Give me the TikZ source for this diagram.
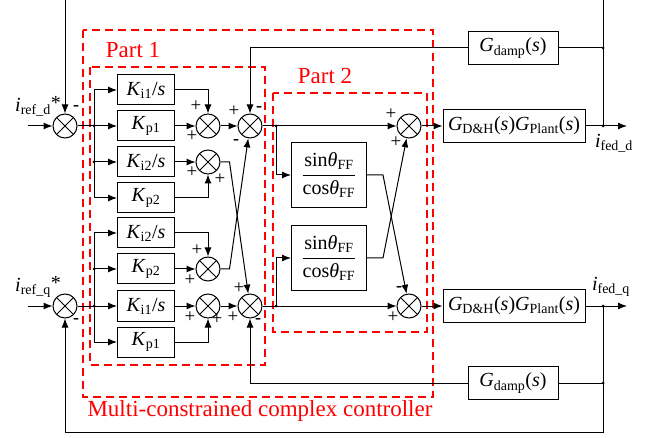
\documentclass[tikz,border=0pt]{standalone}
\usepackage{fontspec}
\usepackage{amsmath}
\setmainfont{Liberation Serif}
\usetikzlibrary{arrows.meta}

\begin{document}
\begin{tikzpicture}[x=1pt, y=-1pt, line width=1pt, >={Latex[length=9pt,width=7pt]},
  block/.style = {draw, minimum width=57pt, minimum height=30pt, inner sep=0pt, font=\rmfamily\fontsize{20}{23}\selectfont},
  sum/.style = {draw, circle, minimum size=24pt, inner sep=0pt,
    path picture={\draw (path picture bounding box.north west) -- (path picture bounding box.south east)
      (path picture bounding box.north east) -- (path picture bounding box.south west);}},
  sign/.style = {inner sep=0pt, font=\rmfamily\fontsize{19}{19}\selectfont},
  minus/.style = {inner sep=0pt, font=\rmfamily\bfseries\fontsize{18}{18}\selectfont},
  dot/.style = {circle, fill, inner sep=0pt, minimum size=3pt},
  part/.style = {draw=red, dash pattern=on 8pt off 5pt, line width=1.2pt},
  partlabel/.style = {text=red, font=\rmfamily\fontsize{23}{26}\selectfont},
  lbl/.style = {inner sep=0pt, font=\rmfamily\fontsize{20}{23}\selectfont}]
  \useasboundingbox (0,0) rectangle (653,438);

  % controller borders
  \draw[part] (83,30) rectangle (433,397);
  \draw[part] (90,67) rectangle (265,365);
  \draw[part] (273,93) rectangle (427,332);
  \node[partlabel] (p1) at (133,50) {Part 1};
  \node[partlabel] (p2) at (325,76) {Part 2};
  \node[partlabel] (mcc) at (260,411) {Multi-constrained complex controller};

  % input junctions
  \node[sum] (sd0) at (65,126) {};
  \node[sum] (sq0) at (65,306) {};
  \node[lbl] (refd) at (38,106) {\textit{i}\textsubscript{ref\_d}\raisebox{2pt}{*}};
  \node[lbl] (refq) at (38,287) {\textit{i}\textsubscript{ref\_q}\raisebox{2pt}{*}};

  % Part 1 blocks
  \node[block] (ki1d) at (146,90) {\textit{K}\textsubscript{i1}/\textit{s}};
  \node[block] (kp1d) at (146,126) {\textit{K}\textsubscript{p1}};
  \node[block] (ki2d) at (146,162) {\textit{K}\textsubscript{i2}/\textit{s}};
  \node[block] (kp2d) at (146,198) {\textit{K}\textsubscript{p2}};
  \node[block] (ki2q) at (146,233) {\textit{K}\textsubscript{i2}/\textit{s}};
  \node[block] (kp2q) at (146,269) {\textit{K}\textsubscript{p2}};
  \node[block] (ki1q) at (146,306) {\textit{K}\textsubscript{i1}/\textit{s}};
  \node[block] (kp1q) at (146,342) {\textit{K}\textsubscript{p1}};

  \node[sum] (sa_d) at (208,126) {};
  \node[sum] (sb_d) at (208,162) {};
  \node[sum] (sc_d) at (250,126) {};
  \node[sum] (sa_q) at (208,269) {};
  \node[sum] (sb_q) at (208,306) {};
  \node[sum] (sc_q) at (250,306) {};

  % Part 2 blocks
  \node[block, minimum width=75pt, minimum height=65pt] (ff_d) at (329,175)
    {$\dfrac{\text{sin\textit{θ}\textsubscript{FF}}}{\text{cos\textit{θ}\textsubscript{FF}}}$};
  \node[block, minimum width=75pt, minimum height=65pt] (ff_q) at (329,258)
    {$\dfrac{\text{sin\textit{θ}\textsubscript{FF}}}{\text{cos\textit{θ}\textsubscript{FF}}}$};
  \node[sum] (se_d) at (409,126) {};
  \node[sum] (se_q) at (409,306) {};

  % plant and damping
  \node[block, minimum width=142pt, minimum height=33pt] (pl_d) at (514,126)
    {\textit{G}\textsubscript{D\&H}(\textit{s})\textit{G}\textsubscript{Plant}(\textit{s})};
  \node[block, minimum width=142pt, minimum height=33pt] (pl_q) at (514,306)
    {\textit{G}\textsubscript{D\&H}(\textit{s})\textit{G}\textsubscript{Plant}(\textit{s})};
  \node[block, minimum width=90pt, minimum height=33pt] (gd_d) at (513,48) {\textit{G}\textsubscript{damp}(\textit{s})};
  \node[block, minimum width=90pt, minimum height=33pt] (gd_q) at (513,383) {\textit{G}\textsubscript{damp}(\textit{s})};
  \node[lbl] (fedd) at (614,143) {\textit{i}\textsubscript{fed\_d}};
  \node[lbl] (fedq) at (611,287) {\textit{i}\textsubscript{fed\_q}};

  % branch points
  \coordinate (ind) at (28,126);
  \coordinate (inq) at (28,306);
  \coordinate (bd) at (94,126);
  \coordinate (bd2) at (94,162);
  \coordinate (bq) at (94,306);
  \coordinate (bq2) at (94,269);
  \coordinate (tapd) at (276,126);
  \coordinate (tapq) at (276,306);
  \coordinate (fbd) at (603,126);
  \coordinate (fbq) at (603,306);
  \coordinate (dmpd) at (603,48);
  \coordinate (dmpq) at (603,383);
  \coordinate (endd) at (627,126);
  \coordinate (endq) at (627,306);
  \coordinate (topd) at (603,0);
  \coordinate (topl) at (65,0);
  \coordinate (botl) at (65,432);
  \foreach \p in {bd,bd2,bq,bq2,tapd,tapq,fbd,fbq,dmpd,dmpq}
    \node[dot] at (\p) {};

  % d axis
  \draw[->] (ind) -- (sd0);
  \draw (sd0) -- (bd);
  \draw[->] (bd) |- (ki1d);
  \draw[->] (bd) -- (kp1d);
  \draw[->] (bd2) -- (ki2d);
  \draw[->] (bd) |- (kp2d);
  \draw[->] (ki1d) -| (sa_d);
  \draw[->] (kp1d) -- (sa_d);
  \draw[->] (ki2d) -- (sb_d);
  \draw[->] (kp2d) -| (sb_d);
  \draw[->] (sa_d) -- (sc_d);
  \draw[->] (sb_d.east) -- ++(9,0) -- (sc_q);
  \draw (sc_d) -- (tapd);
  \draw[->] (tapd) -- (se_d);
  \draw[->] (tapd) |- (ff_d);
  \draw[->] (ff_d.east) -- ++(16,0) -- (se_q);
  \draw[->] (se_d) -- (pl_d);
  \draw[->] (pl_d) -- (endd);

  % q axis
  \draw[->] (inq) -- (sq0);
  \draw (sq0) -- (bq);
  \draw[->] (bq) |- (ki2q);
  \draw[->] (bq2) -- (kp2q);
  \draw[->] (bq) -- (ki1q);
  \draw[->] (bq) |- (kp1q);
  \draw[->] (ki2q) -| (sa_q);
  \draw[->] (kp2q) -- (sa_q);
  \draw[->] (ki1q) -- (sb_q);
  \draw[->] (kp1q) -| (sb_q);
  \draw[->] (sb_q) -- (sc_q);
  \draw[->] (sa_q.east) -- ++(9,0) -- (sc_d);
  \draw (sc_q) -- (tapq);
  \draw[->] (tapq) -- (se_q);
  \draw[->] (tapq) |- (ff_q);
  \draw[->] (ff_q.east) -- ++(16,0) -- (se_d);
  \draw[->] (se_q) -- (pl_q);
  \draw[->] (pl_q) -- (endq);

  % feedback paths
  \draw (fbd) -- (topd);
  \draw[->] (topl) -- (sd0);
  \draw[->] (fbq) |- (botl) -- (sq0);
  \draw (dmpd) -- (gd_d);
  \draw[->] (gd_d) -| (sc_d);
  \draw (dmpq) -- (gd_q);
  \draw[->] (gd_q) -| (sc_q);

  % signs
  \node[minus] at (76,108) {-};
  \node[minus] at (76,321) {-};
  \node[sign] at (196,106) {+};
  \node[sign] at (192,136) {+};
  \node[sign] at (234,111) {+};
  \node[minus] at (259,109) {-};
  \node[minus] at (236,142) {-};
  \node[sign] at (192,172) {+};
  \node[sign] at (220,179) {+};
  \node[sign] at (197,250) {+};
  \node[sign] at (190,280) {+};
  \node[sign] at (190,317) {+};
  \node[sign] at (217,319) {+};
  \node[sign] at (239,288) {+};
  \node[sign] at (233,317) {+};
  \node[minus] at (258,321) {-};
  \node[sign] at (391,114) {+};
  \node[sign] at (396,142) {+};
  \node[minus] at (399,289) {-};
  \node[sign] at (393,317) {+};
\end{tikzpicture}
\end{document}
